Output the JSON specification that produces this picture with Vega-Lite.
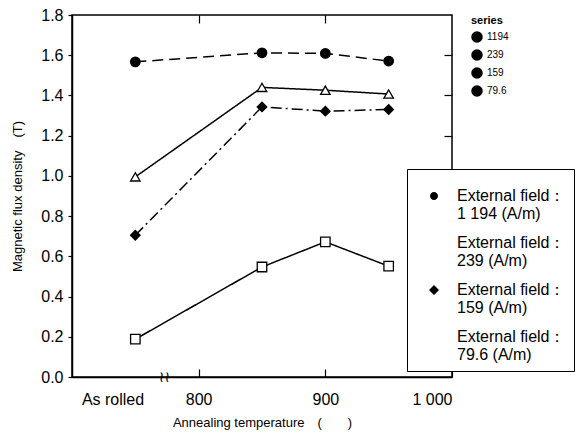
{
  "$schema": "https://vega.github.io/schema/vega-lite/v6.json",
  "width": 380,
  "height": 362,
  "autosize": {"type": "none"},
  "padding": {"left": 72, "top": 15, "right": 134, "bottom": 61},
  "background": "white",
  "config": {
    "font": "Liberation Sans",
    "view": {"stroke": "black", "strokeWidth": 1.5},
    "axis": {"grid": false, "domainColor": "black", "domainWidth": 1.5, "tickColor": "black", "tickWidth": 1.2, "labelColor": "black", "labelFont": "Liberation Sans", "labelFontSize": 16, "titleFont": "Liberation Sans", "titleFontSize": 13, "titleFontWeight": "normal", "titleColor": "black"}
  },
  "datasets": {
    "flux": [
      {"series": "1194", "temp": 750, "flux": 1.567},
      {"series": "1194", "temp": 850, "flux": 1.612},
      {"series": "1194", "temp": 900, "flux": 1.609},
      {"series": "1194", "temp": 950, "flux": 1.571},
      {"series": "239", "temp": 750, "flux": 0.995},
      {"series": "239", "temp": 850, "flux": 1.44},
      {"series": "239", "temp": 900, "flux": 1.426},
      {"series": "239", "temp": 950, "flux": 1.407},
      {"series": "159", "temp": 750, "flux": 0.705},
      {"series": "159", "temp": 850, "flux": 1.343},
      {"series": "159", "temp": 900, "flux": 1.322},
      {"series": "159", "temp": 950, "flux": 1.33},
      {"series": "79.6", "temp": 750, "flux": 0.188},
      {"series": "79.6", "temp": 850, "flux": 0.547},
      {"series": "79.6", "temp": 900, "flux": 0.672},
      {"series": "79.6", "temp": 950, "flux": 0.551}
    ],
    "breaks": [{"temp": 773, "flux": 0}],
    "legendonly": []
  },
  "resolve": {"axis": {"x": "independent", "y": "independent"}, "scale": {"shape": "independent", "fill": "independent"}},
  "layer": [
    {
      "data": {"name": "flux"},
      "mark": {"type": "line", "color": "black", "strokeWidth": 1.5},
      "encoding": {
        "x": {"field": "temp", "type": "quantitative", "scale": {"domain": [700, 1000], "nice": false, "zero": false},
          "axis": {"orient": "bottom", "values": [732, 800, 900, 1000], "tickSize": -8, "tickOpacity": {"expr": "datum.value == 732 ? 0 : 1"}, "labelPadding": 22, "labelExpr": "datum.value == 732 ? 'As rolled' : datum.value == 1000 ? '1 000' : datum.label", "title": "Annealing temperature　(　　)", "titlePadding": 9}},
        "y": {"field": "flux", "type": "quantitative", "scale": {"domain": [0, 1.8], "nice": false},
          "axis": {"orient": "left", "values": [0, 0.2, 0.4, 0.6, 0.8, 1.0, 1.2, 1.4, 1.6, 1.8], "format": ".1f", "tickSize": 4, "labelPadding": 5, "title": "Magnetic flux density　(T)", "titlePadding": 16}},
        "detail": {"field": "series"},
        "strokeDash": {"field": "series", "type": "nominal", "legend": null, "scale": {"range": [[11, 6], [11, 4, 2, 4], [1, 0], [1, 0]]}}
      }
    },
    {
      "data": {"name": "flux"},
      "mark": {"type": "point", "filled": true, "stroke": "black", "strokeWidth": 1.3, "size": 90, "opacity": 1},
      "encoding": {
        "x": {"field": "temp", "type": "quantitative", "axis": {"orient": "top", "values": [800, 900], "tickSize": -8, "labels": false, "domain": false, "title": null}},
        "y": {"field": "flux", "type": "quantitative", "axis": {"orient": "right", "values": [0.2, 0.4, 0.6, 0.8, 1.0, 1.2, 1.4, 1.6], "tickSize": -8, "labels": false, "domain": false, "title": null}},
        "shape": {"field": "series", "type": "nominal", "legend": null, "scale": {"range": ["circle", "diamond", "triangle-up", "square"]}},
        "fill": {"field": "series", "type": "nominal", "legend": null, "scale": {"range": ["black", "black", "white", "white"]}}
      }
    },
    {
      "data": {"name": "breaks"},
      "mark": {"type": "text", "text": "≀≀", "fontSize": 15, "color": "black", "baseline": "middle", "align": "center", "font": "DejaVu Sans"},
      "encoding": {
        "x": {"field": "temp", "type": "quantitative", "axis": null},
        "y": {"field": "flux", "type": "quantitative", "axis": null}
      }
    },
    {
      "data": {"name": "legendonly"},
      "mark": {"type": "point", "filled": true, "strokeWidth": 1.4, "size": 400, "opacity": 1},
      "encoding": {
        "shape": {"field": "series", "type": "nominal",
          "scale": {"domain": ["1194", "239", "159", "79.6"], "range": [
            "M-0.5,0.8H0.4M1.3,0.8H1.8M0.4,0.8A0.4,0.4,0,1,1,1.2,0.8A0.4,0.4,0,1,1,0.4,0.8Z",
            "M-0.5,0.8H0.547M1.053,0.8H2.2M0.8,0.35L1.25,1.15L0.35,1.15Z",
            "M-0.5,0.8H0.3M1.55,0.8H1.7M0.8,0.3L1.3,0.8L0.8,1.3L0.3,0.8Z",
            "M-0.5,0.8H0.35M1.25,0.8H2.2M0.35,0.35H1.25V1.25H0.35Z"]},
          "legend": {
            "orient": "none", "legendX": 335, "legendY": 154, "title": null,
            "padding": 8, "strokeColor": "black", "fillColor": "white",
            "symbolSize": 400, "symbolStrokeColor": "black", "symbolStrokeWidth": 1.4, "symbolOpacity": 1,
            "labelOffset": 20, "labelFontSize": 16, "labelColor": "black", "labelFont": "Liberation Sans", "labelBaseline": "top", "rowPadding": 2,
            "labelExpr": "['External field：', datum.value == '1194' ? '1 194 (A/m)' : datum.value + ' (A/m)']"
          }},
        "fill": {"field": "series", "type": "nominal", "scale": {"domain": ["1194", "239", "159", "79.6"], "range": ["black", "white", "black", "white"]}},
        "stroke": {"field": "series", "type": "nominal", "scale": {"domain": ["1194", "239", "159", "79.6"], "range": ["black", "black", "black", "black"]}}
      }
    }
  ]
}
